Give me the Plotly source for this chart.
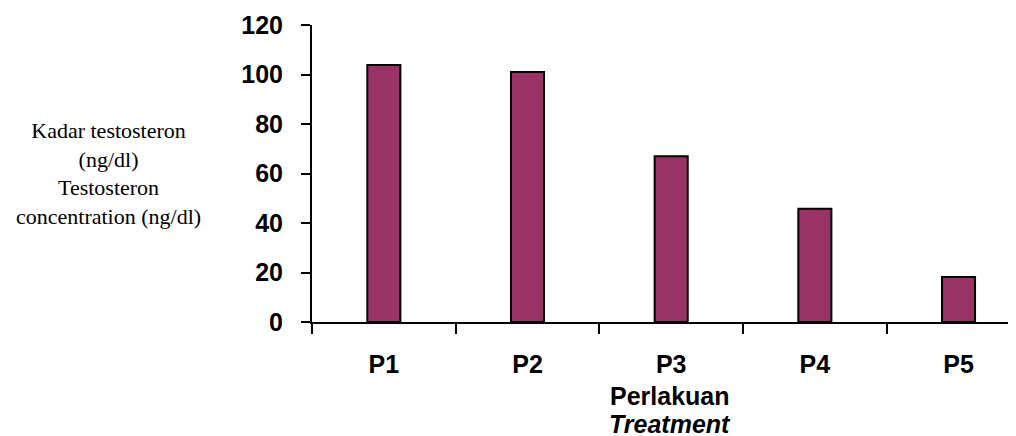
import plotly.graph_objects as go

categories = ["P1", "P2", "P3", "P4", "P5"]
values = [103.8, 101.0, 67.0, 45.8, 18.2]
y_ticks = [0, 20, 40, 60, 80, 100, 120]

# page has an 8px body margin; figure drawn at offset (8, 8)
OFF = 8
W, H = 1016 - OFF, 436 - OFF
L, T = 312 - OFF, 25 - OFF
B = H - (322 - OFF)
R = 0

fig = go.Figure()
fig.add_trace(go.Bar(
    x=categories, y=values, width=0.23,
    marker=dict(color="#993366", line=dict(color="black", width=2)),
))

bold = dict(family="Liberation Sans, Arial", size=25, color="black", weight="bold")

PW = W - L - R
PH = 322 - 25

fig.update_layout(
    width=W, height=H,
    margin=dict(l=L, r=R, t=T, b=B, pad=0),
    plot_bgcolor="white", paper_bgcolor="white",
    showlegend=False,
    xaxis=dict(
        range=[-0.5, 4.40], showline=True, linecolor="black", linewidth=2,
        ticks="outside", tickson="boundaries", ticklen=10, tickwidth=2, tickcolor="black",
        tickfont=bold, ticklabelstandoff=19, showgrid=False, zeroline=False,
        automargin=False,
    ),
    yaxis=dict(
        range=[0, 120], tickvals=y_ticks, showline=True, linecolor="black", linewidth=2,
        ticks="outside", ticklen=9, tickwidth=2, tickcolor="black",
        tickfont=bold, ticklabelstandoff=13, showgrid=False, zeroline=False,
        automargin=False,
    ),
    annotations=[
        dict(text="Kadar testosteron<br>(ng/dl)<br>Testosteron<br>concentration (ng/dl)",
             xref="paper", yref="paper", x=(108 - 312) / PW, y=(322 - 173) / PH,
             xanchor="center", yanchor="middle", showarrow=False, align="center",
             font=dict(family="Liberation Serif, Times New Roman", size=22, color="black")),
        dict(text="Perlakuan", xref="paper", yref="paper",
             x=(670 - 312) / PW, y=-(396 - 322) / PH,
             xanchor="center", yanchor="middle", showarrow=False, font=bold),
        dict(text="<i>Treatment</i>", xref="paper", yref="paper",
             x=(670 - 312) / PW, y=-(424 - 322) / PH,
             xanchor="center", yanchor="middle", showarrow=False, font=bold),
    ],
)

fig.write_html("out.html")
